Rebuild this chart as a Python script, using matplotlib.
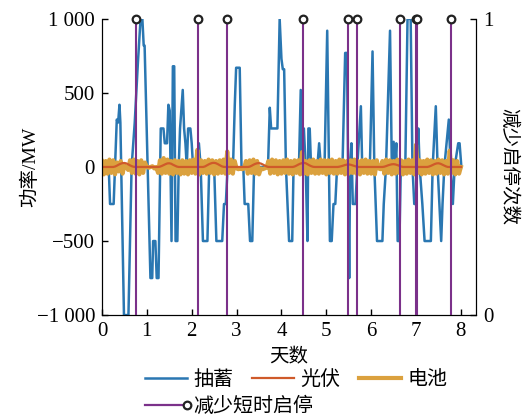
import numpy as np
import matplotlib.pyplot as plt
from matplotlib.legend_handler import HandlerLine2D
from matplotlib.lines import Line2D
from matplotlib.ticker import FuncFormatter

plt.rcParams['font.family'] = ['Liberation Serif', 'Noto Sans CJK SC']
plt.rcParams['axes.unicode_minus'] = True

# pumped storage output, breakpoints (day, MW)
pump_days = [0.04, 0.15, 0.18, 0.26, 0.29, 0.33, 0.36, 0.39, 0.41, 0.49, 0.59, 0.66, 0.73, 0.80,
             0.86, 0.90, 0.93, 0.95, 1.08, 1.12, 1.14, 1.19, 1.22, 1.26, 1.31, 1.37, 1.40, 1.45,
             1.48, 1.51, 1.55, 1.58, 1.61, 1.64, 1.68, 1.71, 1.74, 1.80, 1.83, 1.86, 1.89, 1.92,
             1.97, 2.00, 2.03, 2.12, 2.16, 2.20, 2.25, 2.35, 2.39, 2.50, 2.55, 2.68, 2.72, 2.76,
             2.80, 2.92, 2.96, 2.99, 3.07, 3.11, 3.15, 3.18, 3.26, 3.30, 3.35, 3.39, 3.70, 3.74,
             3.77, 3.91, 3.96, 4.00, 4.03, 4.06, 4.10, 4.17, 4.24, 4.27, 4.39, 4.43, 4.46, 4.50,
             4.54, 4.58, 4.60, 4.63, 4.66, 4.80, 4.84, 4.88, 4.96, 5.02, 5.08, 5.12, 5.16, 5.20,
             5.24, 5.36, 5.42, 5.46, 5.51, 5.53, 5.56, 5.59, 5.65, 5.69, 5.77, 5.80, 5.97, 6.03,
             6.07, 6.13, 6.25, 6.28, 6.33, 6.42, 6.46, 6.50, 6.53, 6.56, 6.59, 6.63, 6.66, 6.76,
             6.81, 6.88, 6.92, 6.96, 7.00, 7.05, 7.08, 7.14, 7.19, 7.33, 7.37, 7.44, 7.48, 7.52,
             7.56, 7.59, 7.63, 7.73, 7.77, 7.82, 7.86, 7.94, 7.97, 8.01]
pump_mw = [0, 0, -250, -250, 0, 320, 300, 420, 300, -1000, -1000, 0, 300, 700,
           1000, 1000, 820, 820, -750, -750, -500, -500, -750, -750, 260, 260, 160, 160,
           420, 380, -500, 680, 680, -500, -500, 0, 260, 520, 260, 160, 0, 260,
           260, 160, 0, 0, 160, 0, -500, -500, 0, 0, -500, -500, -250, -250,
           0, 0, 420, 670, 670, 0, 0, -250, -250, -500, -500, 0, 0, 400,
           260, 260, 1000, 730, 660, 660, 0, -500, -500, 0, 0, 520, 0, 260,
           0, -500, 260, 260, 0, 0, 160, 0, 0, 920, -500, -500, -250, -250,
           0, 0, 770, 770, -750, 0, 160, -250, -250, 0, 410, 0, 0, 780,
           0, -500, -500, -250, 0, 920, 0, 170, 0, 160, -500, -500, 0, 0,
           1000, 1000, 0, -250, -250, 260, 0, -250, -500, -500, 0, 410, 0, -250,
           -500, -250, 0, 320, 0, -250, 0, 160, 160, 0]

# hourly battery output, MW (one row per day)
battery_mw = [
    40, -50, 40, -45, 50, -40, 45, -50, 30, -30, 40, -45, 10, 0, -20, 45, -40, 50, -45, 40, -50, 45, -40, 30,
    0, -5, 0, 5, -10, 0, -40, 45, -45, 60, -40, 50, -45, 40, -50, 45, -40, 40, -50, 45, -45, 40, -50, 45,
    -40, 50, -45, 115, -50, 45, -40, 40, -45, 50, -40, 45, -50, 40, -45, 45, -40, 50, -45, 105, -40, 50, -45, 40,
    -10, -15, -10, -15, -10, 40, -45, 45, -40, 50, -45, 40, -50, -10, -15, -10, -5, 40, -45, 50, -40, 45, -50, 40,
    -45, 45, -40, 50, -45, 40, -50, 45, -40, 45, -50, 100, -45, 40, -50, 45, -40, 50, -45, 40, -45, 50, -40, 45,
    -50, 45, -40, 50, -45, 40, -45, 50, -40, 45, -50, 40, -45, 45, -40, 50, -45, 40, -50, 45, -40, 50, -45, 40,
    -45, 40, -50, 45, -10, -15, 40, -45, 50, -40, 45, -50, 40, -45, 50, -40, 45, -50, 40, -45, 50, -40, 45, -50,
    150, -40, 45, -50, 40, -45, 50, -40, 45, -50, 40, -45, 50, -40, 45, -50, 40, -45, 110, -40, 45, -50, 40, -45,
    0]

# hourly PV output, MW
pv_mw = [
    0, 0, 0, 0, 0, 0, 0, 3, 9, 16, 22, 26, 27, 24, 18, 11, 5, 1, 0, 0, 0, 0, 0, 0,
    0, 0, 0, 0, 0, 0, 0, 2, 7, 13, 19, 24, 25, 22, 15, 9, 3, 0, 0, 0, 0, 0, 0, 0,
    0, 0, 0, 0, 0, 0, 0, 3, 10, 17, 23, 27, 28, 25, 19, 12, 5, 1, 0, 0, 0, 0, 0, 0,
    0, 0, 0, 0, 0, 0, 0, 2, 8, 15, 21, 25, 26, 23, 17, 10, 4, 0, 0, 0, 0, 0, 0, 0,
    0, 0, 0, 0, 0, 0, 0, 3, 9, 16, 22, 26, 28, 25, 18, 11, 5, 1, 0, 0, 0, 0, 0, 0,
    0, 0, 0, 0, 0, 0, 0, 2, 5, 9, 13, 16, 17, 15, 11, 7, 3, 0, 0, 0, 0, 0, 0, 0,
    0, 0, 0, 0, 0, 0, 0, 2, 6, 11, 15, 18, 19, 17, 13, 8, 3, 0, 0, 0, 0, 0, 0, 0,
    0, 0, 0, 0, 0, 0, 0, 3, 8, 14, 20, 24, 25, 22, 16, 10, 4, 0, 0, 0, 0, 0, 0, 0,
    0]

# days with avoided short start-stop events
event_days = [0.75, 2.13, 2.79, 4.47, 5.48, 5.68, 6.65, 6.99, 7.03, 7.78]
event_counts = [1] * len(event_days)

hours = np.arange(len(battery_mw)) / 24

BLUE, ORANGE, GOLD, PURPLE = '#2A77B2', '#CF5A2A', '#DBA13E', '#7B318A'


class EndMarkerHandler(HandlerLine2D):
    # legend entry with the marker at the right end of the line
    def create_artists(self, legend, orig_handle, xdescent, ydescent,
                       width, height, fontsize, trans):
        artists = super().create_artists(legend, orig_handle, xdescent, ydescent,
                                         width, height, fontsize, trans)
        line = artists[0]
        line.set_markevery([len(line.get_xdata()) - 1])
        return artists


fig = plt.figure(figsize=(5.27, 4.19), dpi=100)
ax = fig.add_axes([0.1935, 0.248, 0.7095, 0.707])

l_pump, = ax.plot(pump_days, pump_mw, color=BLUE, lw=1.8)
l_bat, = ax.plot(hours, battery_mw, color=GOLD, lw=3)
l_pv, = ax.plot(hours, pv_mw, color=ORANGE, lw=1.6)

ax.set_xlim(0, 200 / 24)
ax.set_ylim(-1000, 1000)
ax.set_xticks(range(9))
ax.set_yticks([-1000, -500, 0, 500, 1000])
ax.yaxis.set_major_formatter(FuncFormatter(
    lambda v, p: f"{v:,.0f}".replace(",", " ").replace("-", "\u2212")))
ax.tick_params(direction='in', length=4, width=1, labelsize=15, pad=5)
ax.spines['top'].set_visible(False)
ax.set_xlabel('天数', fontsize=14, labelpad=5)
ax.set_ylabel('功率/MW', fontsize=14, labelpad=-2)

ax2 = ax.twinx()
ml, sl, bl = ax2.stem(event_days, event_counts, basefmt=' ')
plt.setp(sl, color=PURPLE, lw=1.5)
plt.setp(ml, marker='o', markerfacecolor='white', markeredgecolor='#222222',
         markersize=5.5, markeredgewidth=1.6, clip_on=False)
ax2.set_ylim(0, 1)
ax2.set_yticks([0, 1])
ax2.tick_params(direction='in', length=4, width=1, labelsize=15, pad=5)
ax2.spines['top'].set_visible(False)
ax2.set_ylabel('减少启停次数', fontsize=14, rotation=270, labelpad=18)

# legend: three series on the first row, the event stems below
leg_kw = dict(frameon=False, fontsize=14.4, handlelength=2.1, handletextpad=0.3,
              columnspacing=0.95, borderpad=0, borderaxespad=0, loc='center left')
leg1 = fig.legend([l_pump, l_pv, l_bat], ['抽蓄', '光伏', '电池'], ncol=3,
                  bbox_to_anchor=(145 / 527, 1 - 380 / 419), **leg_kw)
stem_proxy = Line2D([], [], color=PURPLE, lw=1.6, marker='o', markerfacecolor='white',
                    markeredgecolor='#222222', markersize=5.5, markeredgewidth=1.6)
leg2 = fig.legend([stem_proxy], ['减少短时启停'], bbox_to_anchor=(145 / 527, 1 - 407 / 419),
                  handler_map={stem_proxy: EndMarkerHandler()}, **leg_kw)

fig.savefig('out.png', dpi=100)
